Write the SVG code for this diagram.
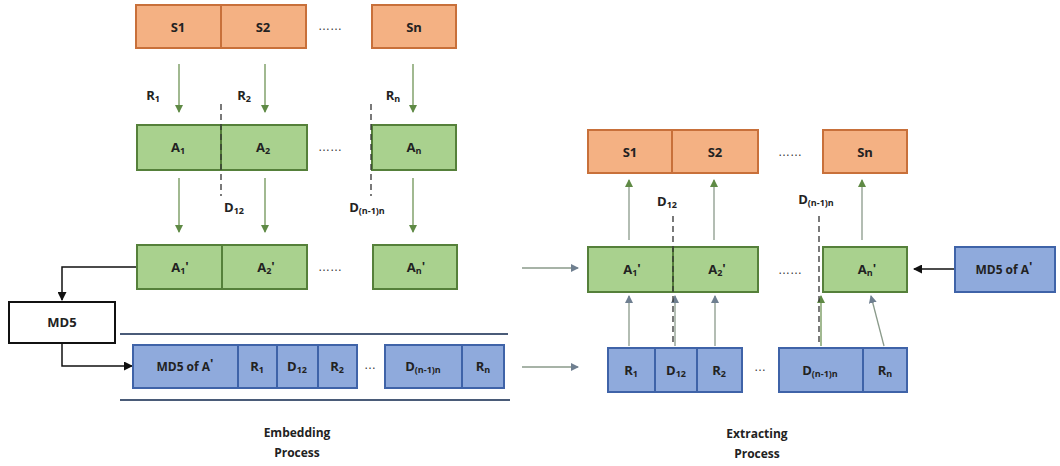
<svg xmlns="http://www.w3.org/2000/svg" width="1060" height="466" viewBox="0 0 1060 466">
<defs>
<style>
.t{font-family:"Open Sans","Liberation Sans",sans-serif;font-weight:bold;font-size:13px;fill:#222;text-anchor:middle;dominant-baseline:central}
.s{font-size:9px}
.p{font-size:13px}
.org{fill:#f4b183;stroke:#c8703a;stroke-width:2}
.grn{fill:#a9d18e;stroke:#55803a;stroke-width:2}
.blu{fill:#8faadc;stroke:#3f63a8;stroke-width:2}
.ga{stroke:#6f9455;stroke-width:1.3;fill:none}
.gy{stroke:#8a9a8a;stroke-width:1.3;fill:none}
.bk{stroke:#111;stroke-width:1.5;fill:none}
.dash{stroke:#333;stroke-width:1.3;stroke-dasharray:6,4;fill:none}
.hl{stroke:#4a5b78;stroke-width:2}
.dots{font-family:"Liberation Sans",sans-serif;font-size:12px;fill:#333;text-anchor:middle}
</style>
<marker id="mg" markerWidth="8" markerHeight="8" refX="7" refY="4" orient="auto" markerUnits="userSpaceOnUse"><path d="M0,0 L8,4 L0,8 Z" fill="#5f8a45"/></marker>
<marker id="my" markerWidth="8" markerHeight="8" refX="7" refY="4" orient="auto" markerUnits="userSpaceOnUse"><path d="M0,0 L8,4 L0,8 Z" fill="#6f7f90"/></marker>
<marker id="mk" markerWidth="9" markerHeight="9" refX="8" refY="4.5" orient="auto" markerUnits="userSpaceOnUse"><path d="M0,0 L9,4.5 L0,9 Z" fill="#111"/></marker>
</defs>
<rect width="1060" height="466" fill="#fff"/>

<g id="connectors">
<line class="ga" x1="179" y1="64" x2="179" y2="112" marker-end="url(#mg)"/>
<line class="ga" x1="265" y1="64" x2="265" y2="112" marker-end="url(#mg)"/>
<line class="ga" x1="413" y1="64" x2="413" y2="112" marker-end="url(#mg)"/>
<line class="ga" x1="179" y1="178" x2="179" y2="232" marker-end="url(#mg)"/>
<line class="ga" x1="265" y1="178" x2="265" y2="232" marker-end="url(#mg)"/>
<line class="ga" x1="413" y1="178" x2="413" y2="232" marker-end="url(#mg)"/>
<polyline class="bk" points="137,267 62,267 62,300" marker-end="url(#mk)"/>
<polyline class="bk" points="62,343 62,366 132,366" marker-end="url(#mk)"/>
<line class="hl" x1="120" y1="334" x2="508" y2="334"/>
<line class="hl" x1="120" y1="400" x2="510" y2="400"/>
<line class="gy" x1="522" y1="268" x2="578" y2="268" marker-end="url(#my)"/>
<line class="gy" x1="522" y1="367" x2="578" y2="367" marker-end="url(#my)"/>
<line class="gy" x1="629" y1="240" x2="629" y2="180" marker-end="url(#mg)"/>
<line class="gy" x1="714" y1="240" x2="714" y2="180" marker-end="url(#mg)"/>
<line class="gy" x1="862" y1="240" x2="862" y2="180" marker-end="url(#mg)"/>
<line class="gy" x1="629" y1="346" x2="629" y2="296" marker-end="url(#my)"/>
<line class="gy" x1="675" y1="346" x2="675" y2="296" marker-end="url(#my)"/>
<line class="gy" x1="715" y1="346" x2="715" y2="296" marker-end="url(#my)"/>
<line class="ga" x1="821" y1="346" x2="821" y2="296" marker-end="url(#mg)"/>
<line class="gy" x1="884" y1="346" x2="871" y2="296" marker-end="url(#my)"/>
<line class="bk" x1="954" y1="269" x2="914" y2="269" marker-end="url(#mk)"/>
</g>

<g id="labels-left">
<text class="t" x="153" y="95">R<tspan class="s" dy="3">1</tspan></text>
<text class="t" x="244" y="95">R<tspan class="s" dy="3">2</tspan></text>
<text class="t" x="393" y="95">R<tspan class="s" dy="3">n</tspan></text>
<text class="t" x="234" y="207">D<tspan class="s" dy="3">12</tspan></text>
<text class="t" x="367" y="207">D<tspan class="s" dy="3">(n-1)n</tspan></text>
<text class="dots" x="330" y="30">……</text>
<text class="dots" x="330" y="151">……</text>
<text class="dots" x="330" y="271">……</text>
</g>

<g id="s1-left"><rect class="org" x="136" y="5" width="85" height="43"/><text class="t" x="178" y="27">S1</text></g>
<g id="s2-left"><rect class="org" x="221" y="5" width="85" height="43"/><text class="t" x="263" y="27">S2</text></g>
<g id="sn-left"><rect class="org" x="372" y="5" width="84" height="43"/><text class="t" x="414" y="27">Sn</text></g>

<g id="a1"><rect class="grn" x="137" y="125" width="84" height="45"/><text class="t" x="178" y="147">A<tspan class="s" dy="3">1</tspan></text></g>
<g id="a2"><rect class="grn" x="221" y="125" width="86" height="45"/><text class="t" x="263" y="147">A<tspan class="s" dy="3">2</tspan></text></g>
<g id="an"><rect class="grn" x="372" y="125" width="84" height="45"/><text class="t" x="414" y="147">A<tspan class="s" dy="3">n</tspan></text></g>

<g id="a1p"><rect class="grn" x="137" y="245" width="85" height="44"/><text class="t" x="180" y="267">A<tspan class="s" dy="3">1</tspan><tspan dy="-4" class="p">'</tspan></text></g>
<g id="a2p"><rect class="grn" x="222" y="245" width="85" height="44"/><text class="t" x="266" y="267">A<tspan class="s" dy="3">2</tspan><tspan dy="-4" class="p">'</tspan></text></g>
<g id="anp"><rect class="grn" x="373" y="245" width="84" height="44"/><text class="t" x="416" y="267">A<tspan class="s" dy="3">n</tspan><tspan dy="-4" class="p">'</tspan></text></g>

<g id="md5"><rect x="9" y="302" width="106" height="41" fill="#fff" stroke="#111" stroke-width="2"/><text class="t" x="62" y="322">MD5</text></g>

<g id="blue-left">
<rect class="blu" x="133" y="345" width="105" height="43"/><text class="t" x="185" y="366" style="font-size:12px">MD5 of A<tspan class="p" dy="-3">'</tspan></text>
<rect class="blu" x="238" y="345" width="39" height="43"/><text class="t" x="257" y="366">R<tspan class="s" dy="3">1</tspan></text>
<rect class="blu" x="277" y="345" width="41" height="43"/><text class="t" x="297" y="366">D<tspan class="s" dy="3">12</tspan></text>
<rect class="blu" x="318" y="345" width="39" height="43"/><text class="t" x="337" y="366">R<tspan class="s" dy="3">2</tspan></text>
<text class="dots" x="370" y="369">…</text>
<rect class="blu" x="385" y="345" width="77" height="43"/><text class="t" x="423" y="366">D<tspan class="s" dy="3">(n-1)n</tspan></text>
<rect class="blu" x="462" y="345" width="42" height="43"/><text class="t" x="483" y="366">R<tspan class="s" dy="3">n</tspan></text>
</g>

<g id="embedding-label"><text class="t" x="297" y="432" style="font-size:12px">Embedding</text><text class="t" x="297" y="452" style="font-size:12px">Process</text></g>

<g id="s1-right"><rect class="org" x="588" y="130" width="84" height="43"/><text class="t" x="630" y="152">S1</text></g>
<g id="s2-right"><rect class="org" x="672" y="130" width="86" height="43"/><text class="t" x="715" y="152">S2</text></g>
<g id="sn-right"><rect class="org" x="823" y="130" width="84" height="43"/><text class="t" x="865" y="152">Sn</text></g>

<g id="labels-right">
<text class="dots" x="790" y="156">……</text>
<text class="t" x="667" y="201">D<tspan class="s" dy="3">12</tspan></text>
<text class="t" x="816" y="199">D<tspan class="s" dy="3">(n-1)n</tspan></text>
<text class="dots" x="790" y="274">……</text>
<text class="dots" x="760" y="371">…</text>
</g>

<g id="a1p-right"><rect class="grn" x="588" y="247" width="85" height="45"/><text class="t" x="632" y="269">A<tspan class="s" dy="3">1</tspan><tspan dy="-4" class="p">'</tspan></text></g>
<g id="a2p-right"><rect class="grn" x="673" y="247" width="85" height="45"/><text class="t" x="717" y="269">A<tspan class="s" dy="3">2</tspan><tspan dy="-4" class="p">'</tspan></text></g>
<g id="anp-right"><rect class="grn" x="823" y="247" width="84" height="45"/><text class="t" x="867" y="269">A<tspan class="s" dy="3">n</tspan><tspan dy="-4" class="p">'</tspan></text></g>

<g id="md5-right"><rect class="blu" x="955" y="247" width="100" height="45"/><text class="t" x="1004" y="269" style="font-size:12px">MD5 of A<tspan class="p" dy="-3">'</tspan></text></g>

<g id="blue-right">
<rect class="blu" x="608" y="348" width="47" height="44"/><text class="t" x="631" y="370">R<tspan class="s" dy="3">1</tspan></text>
<rect class="blu" x="655" y="348" width="42" height="44"/><text class="t" x="676" y="370">D<tspan class="s" dy="3">12</tspan></text>
<rect class="blu" x="697" y="348" width="45" height="44"/><text class="t" x="719" y="370">R<tspan class="s" dy="3">2</tspan></text>
<rect class="blu" x="779" y="348" width="84" height="44"/><text class="t" x="820" y="370">D<tspan class="s" dy="3">(n-1)n</tspan></text>
<rect class="blu" x="863" y="348" width="44" height="44"/><text class="t" x="885" y="370">R<tspan class="s" dy="3">n</tspan></text>
</g>

<g id="extracting-label"><text class="t" x="757" y="433" style="font-size:12px">Extracting</text><text class="t" x="757" y="453" style="font-size:12px">Process</text></g>

<g id="separators">
<line class="dash" x1="221" y1="104" x2="221" y2="196"/>
<line class="dash" x1="371" y1="104" x2="371" y2="196"/>
<line class="dash" x1="673" y1="216" x2="673" y2="344"/>
<line class="dash" x1="819" y1="216" x2="819" y2="344"/>
</g>
</svg>
